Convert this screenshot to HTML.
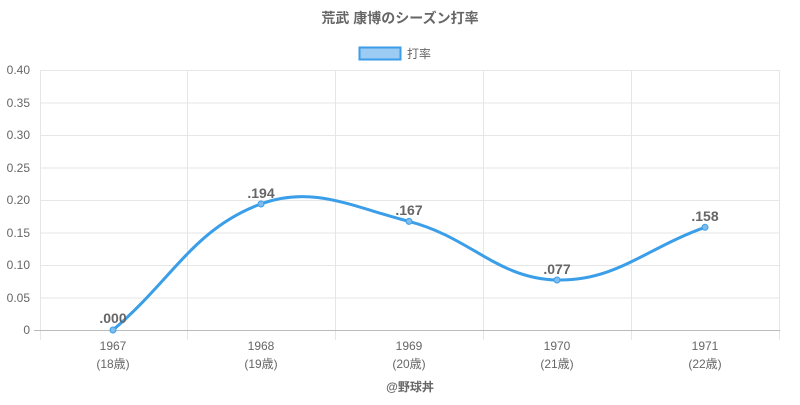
<!DOCTYPE html>
<html><head><meta charset="utf-8"><style>
body{margin:0;background:#fff;}
svg text{font-family:"Liberation Sans","Noto Sans CJK JP",sans-serif;}
</style></head><body>
<svg width="800" height="400" xmlns="http://www.w3.org/2000/svg">
<text x="400" y="23" text-anchor="middle" font-size="14" font-weight="bold" fill="#666">荒武 康博のシーズン打率</text>
<rect x="359.5" y="47.5" width="41" height="12" fill="#9ccbf3" stroke="#3a9ee8" stroke-width="2"/>
<text x="407" y="58" font-size="12" fill="#666">打率</text>
<g stroke="#e6e6e6" stroke-width="1">
<line x1="40" y1="70.5" x2="780" y2="70.5"/><line x1="40" y1="103" x2="780" y2="103"/>
<line x1="40" y1="135.5" x2="780" y2="135.5"/><line x1="40" y1="168" x2="780" y2="168"/>
<line x1="40" y1="200.5" x2="780" y2="200.5"/><line x1="40" y1="233" x2="780" y2="233"/>
<line x1="40" y1="265.5" x2="780" y2="265.5"/><line x1="40" y1="298" x2="780" y2="298"/>
<line x1="40.5" y1="70" x2="40.5" y2="340"/><line x1="187.5" y1="70" x2="187.5" y2="340"/>
<line x1="335.5" y1="70" x2="335.5" y2="340"/><line x1="483.5" y1="70" x2="483.5" y2="340"/>
<line x1="631.5" y1="70" x2="631.5" y2="340"/><line x1="779.5" y1="70" x2="779.5" y2="340"/>
</g>
<line x1="34" y1="330.5" x2="780" y2="330.5" stroke="#bbb"/>
<g font-size="12" fill="#666" text-anchor="end">
<text x="30" y="74">0.40</text><text x="30" y="107">0.35</text><text x="30" y="139">0.30</text>
<text x="30" y="172">0.25</text><text x="30" y="204">0.20</text><text x="30" y="237">0.15</text>
<text x="30" y="269">0.10</text><text x="30" y="302">0.05</text><text x="30" y="334">0</text>
</g>
<g font-size="12" fill="#666" text-anchor="middle">
<text x="113" y="350">1967</text><text x="113" y="368">(18歳)</text>
<text x="261" y="350">1968</text><text x="261" y="368">(19歳)</text>
<text x="409" y="350">1969</text><text x="409" y="368">(20歳)</text>
<text x="557" y="350">1970</text><text x="557" y="368">(21歳)</text>
<text x="705" y="350">1971</text><text x="705" y="368">(22歳)</text>
</g>
<text x="410" y="391" text-anchor="middle" font-size="12" font-weight="bold" fill="#666">@野球丼</text>
<path d="M113,330 C172.2,279.6 194,228.5 261,203.9 C312.4,185.1 351.8,206.7 409,221.4 C470.2,237.1 497.4,278.8 557,280 C615.8,281.2 645.8,248.4 705,227.3" fill="none" stroke="#3a9ee8" stroke-width="3"/>
<g fill="#7fbdf0" stroke="#3a9ee8" stroke-width="1">
<circle cx="113" cy="330" r="3"/><circle cx="261" cy="204" r="3"/><circle cx="409" cy="221.4" r="3"/>
<circle cx="557" cy="280" r="3"/><circle cx="705" cy="227.3" r="3"/>
</g>
<g font-size="14" font-weight="bold" fill="#666" text-anchor="middle">
<text x="113" y="323">.000</text><text x="261" y="198">.194</text><text x="409" y="215">.167</text>
<text x="557" y="274">.077</text><text x="705" y="221">.158</text>
</g>
</svg>
</body></html>
